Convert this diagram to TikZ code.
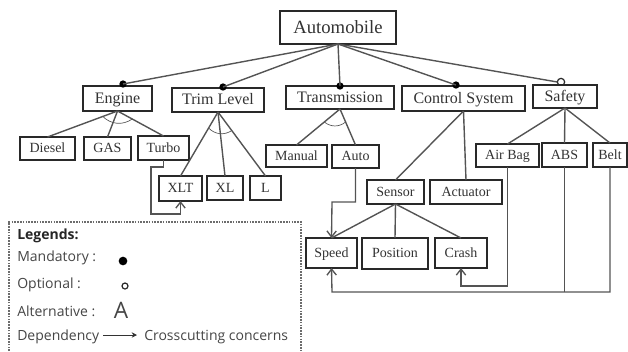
\documentclass[tikz,border=0pt]{standalone}
\usepackage{fontspec}
\setmainfont{Liberation Serif}
\newfontfamily\legfont{Open Sans}
\usetikzlibrary{arrows.meta,calc}
\definecolor{boxc}{gray}{0.16}
\definecolor{linec}{gray}{0.33}
\definecolor{txtc}{gray}{0.2}
\definecolor{legc}{gray}{0.27}
\tikzset{
  feat/.style={draw=boxc,line width=1.5pt,fill=white,inner sep=0pt,outer sep=0pt,text=txtc},
  link/.style={draw=linec,line width=1.05pt},
  dep/.style={draw=linec,line width=1pt},
  deptip/.style={dep,-{Straight Barb[length=4.5pt,width=7pt]}},
  altarc/.style={draw=linec,line width=0.5pt},
  mand/.style={circle,fill=black,inner sep=0pt,minimum size=5.5pt,outer sep=0pt},
  opt/.style={circle,draw=boxc,line width=0.9pt,fill=white,inner sep=0pt,minimum size=5.5pt,outer sep=0pt},
  legtext/.style={anchor=west,inner sep=0pt,text=legc,font=\legfont\fontsize{10.5}{12}\selectfont},
  big/.style={font=\fontsize{14}{16}\selectfont},
  mid/.style={font=\fontsize{12}{14}\selectfont},
  small/.style={font=\fontsize{10.5}{12}\selectfont}
}
% name, x1, y1, x2, y2, size style, text
\newcommand{\featbox}[7]{%
  \node[feat,#6,minimum width={(#4-#2)*0.75pt},minimum height={(#5-#3)*0.75pt}] (#1) at ({(#2+#4)/2},{(#3+#5)/2}) {\rule[-0.1em]{0pt}{0.8em}\smash{#7}};}
\begin{document}
\begin{tikzpicture}[x=0.75pt,y=-0.75pt]
\useasboundingbox (0,0) rectangle (628,351);
% optional marker sits behind its box
\node[opt] (ds) at (561,82) {};
% feature boxes
\featbox{auto}{280}{11}{396}{44}{big}{Automobile}
\featbox{eng}{83}{86}{152}{111}{mid}{Engine}
\featbox{trim}{172}{88}{264}{112}{mid}{Trim Level}
\featbox{trans}{286}{86}{394}{109}{mid}{Transmission}
\featbox{ctrl}{402}{86}{525}{111}{mid}{Control System}
\featbox{safe}{533}{85}{597}{108}{mid}{Safety}
\featbox{diesel}{20}{137}{75}{160}{small}{Diesel}
\featbox{gas}{84}{137}{131}{160}{small}{GAS}
\featbox{turbo}{138}{136}{189}{160}{small}{Turbo}
\featbox{manual}{266}{145}{327}{167}{small}{Manual}
\featbox{autom}{332}{145}{379}{168}{small}{Auto}
\featbox{airbag}{476}{144}{539}{167}{small}{Air Bag}
\featbox{abs}{542}{143}{587}{167}{small}{ABS}
\featbox{belt}{593}{143}{627}{167}{small}{Belt}
\featbox{xlt}{159}{176}{202}{201}{small}{XLT}
\featbox{xl}{207}{176}{243}{200}{small}{XL}
\featbox{l}{250}{176}{281}{200}{small}{L}
\featbox{sensor}{367}{180}{424}{204}{small}{Sensor}
\featbox{actuator}{430}{180}{502}{204}{small}{Actuator}
\featbox{speed}{306}{238}{357}{268}{small}{Speed}
\featbox{position}{362}{238}{428}{269}{small}{Position}
\featbox{crash}{435}{238}{487}{268}{small}{Crash}
% markers on top of the first level
\node[mand] (de) at (123,84) {};
\node[mand] (dt) at (223,87) {};
\node[mand] (dr) at (340,86) {};
\node[mand] (dc) at (456,85) {};
% links from the root
\draw[link] (auto.south) -- (de.center);
\draw[link] (auto.south) -- (dt.center);
\draw[link] (auto.south) -- (dr.center);
\draw[link] (auto.south) -- (dc.center);
\draw[link] (auto.south) -- (ds.west);
% tree links
\foreach \p/\c in {eng/diesel,eng/gas,eng/turbo,trim/xlt,trim/xl,trim/l,trans/manual,trans/autom,ctrl/sensor,ctrl/actuator,safe/airbag,safe/abs,safe/belt,sensor/speed,sensor/position,sensor/crash}
  \draw[link] (\p.south) -- (\c.north);
% alternative arcs
\draw[altarc] ($(eng.south)!0.21!(diesel.north)$) to[bend right=40] ($(eng.south)!0.32!(turbo.north)$);
\draw[altarc] ($(trim.south)!0.25!(xlt.north)$) to[bend right=40] ($(trim.south)!0.29!(l.north)$);
\draw[altarc] ($(trans.south)!0.36!(manual.north)$) to[bend right=40] ($(trans.south)!0.36!(autom.north)$);
% dependencies
\draw[deptip] (turbo.south) -- ++(0,7) -| (151,214) -| (xlt.south);
\draw[deptip] (autom.south) |- (332,202) -- (speed.north);
\draw[deptip] (airbag.south) |- (461,286) -- (crash.south);
\draw[dep] (abs.south) -- (abs.south |- 0,292);
\draw[deptip] (belt.south) |- (332,292) -- (speed.south);
% legend frame (its lower edge is cut off by the picture)
\coordinate (la) at (9,351);
\coordinate (lb) at (9,222);
\coordinate (lc) at (301,222);
\coordinate (ld) at (301,351);
\draw[gray!85!black,line width=0.8pt,dash pattern=on 1.2pt off 0.9pt] (la) -- (lb) -- (lc) -- (ld);
\node[legtext,font=\legfont\bfseries\fontsize{10.5}{12}\selectfont,text=black!85] (lg0) at (17,236) {Legends:};
\node[legtext] (lg1) at (17,258) {Mandatory :};
\node[legtext] (lg2) at (17,285) {Optional :};
\node[legtext] (lg3) at (17,311) {Alternative :};
\node[legtext] (lg4) at (17,337) {Dependency};
\node[legtext] (lg5) at (144,337) {Crosscutting concerns};
\node[mand,minimum size=6.5pt] (lgm) at (123,261) {};
\node[opt,minimum size=4.5pt] (lgo) at (125,286) {};
\node[inner sep=0pt,text=legc,font=\legfont\fontsize{17}{18}\selectfont] (lga) at (121,310) {A};
\draw[draw=black!80,line width=0.6pt,-{Stealth[length=4pt,width=4pt]}] ($(lg4.east)+(4,-2)$) -- ($(lg5.west)+(-7,-2)$);
\end{tikzpicture}
\end{document}
